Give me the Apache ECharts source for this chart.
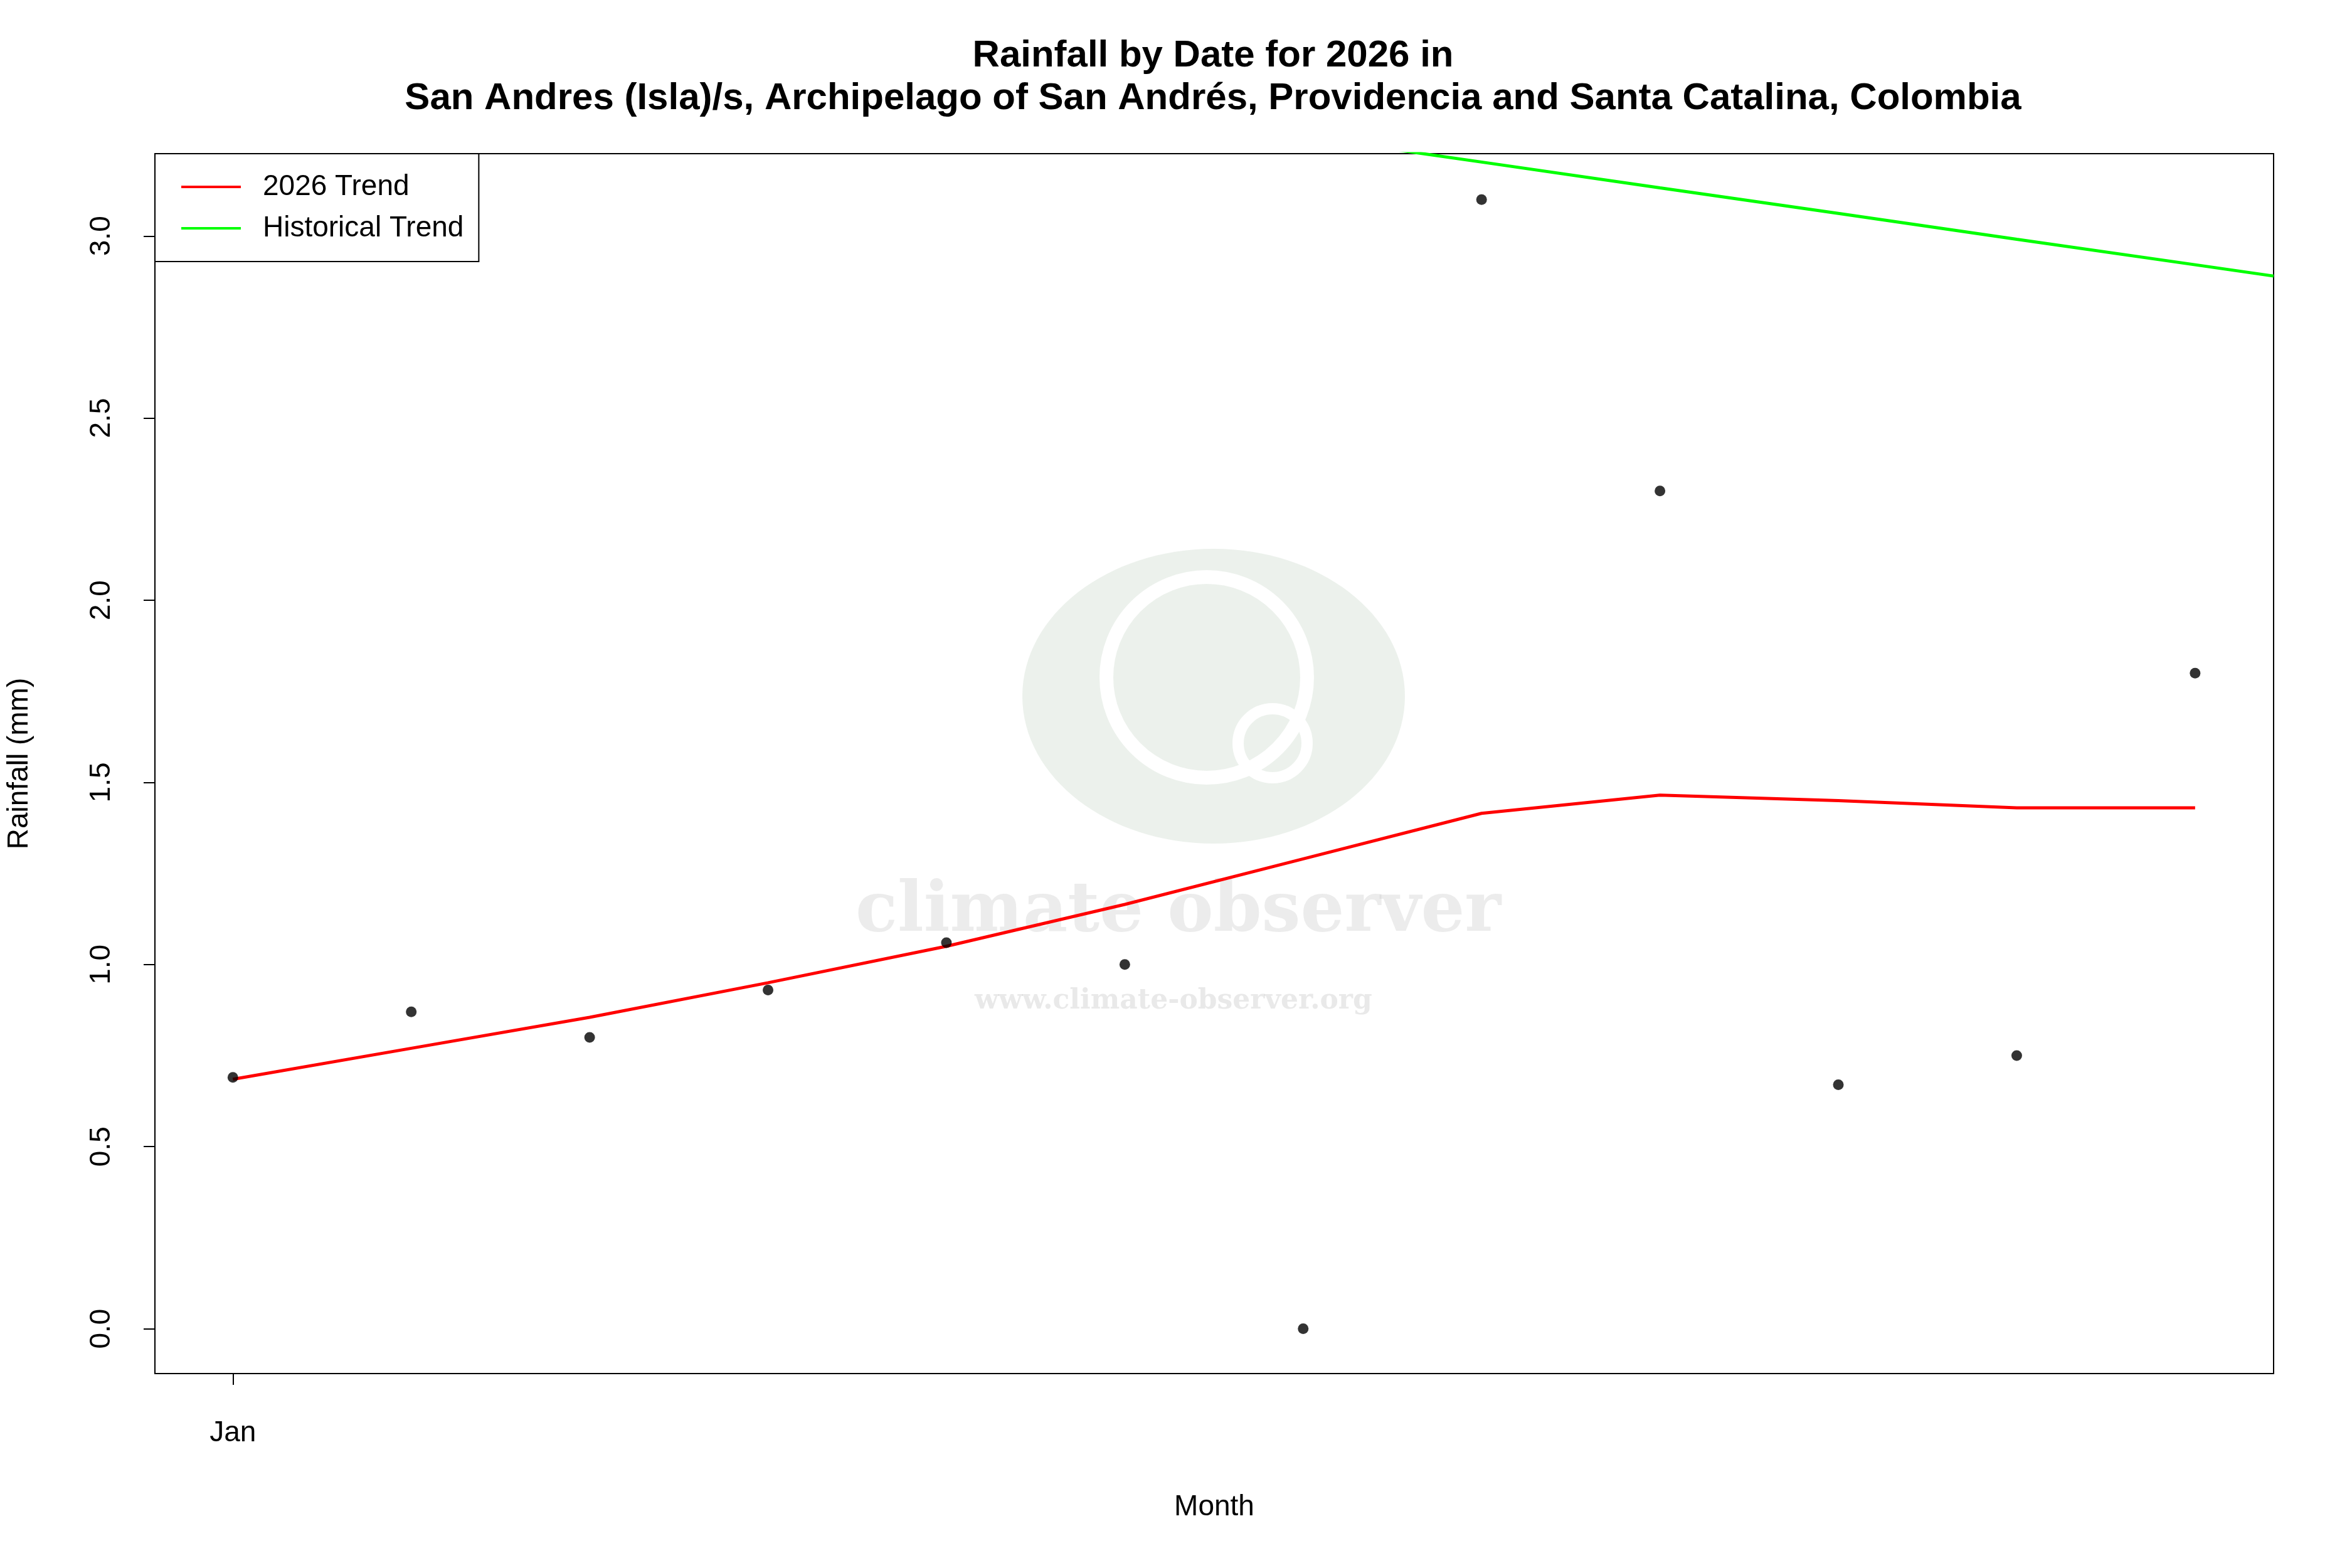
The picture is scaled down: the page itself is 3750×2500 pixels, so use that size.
<!DOCTYPE html>
<html>
<head>
<meta charset="utf-8">
<script src="https://cdn.jsdelivr.net/npm/echarts@6/dist/echarts.min.js"></script>
<style>html,body{margin:0;padding:0;background:#fff}#container{width:3750px;height:2500px}</style>
</head>
<body>
<div id="container"></div>
<script>
// monthly rainfall, x = month index (0 = Jan)
var months = [0, 1, 2, 3, 4, 5, 6, 7, 8, 9, 10, 11];
var rainfall = [0.69, 0.87, 0.80, 0.93, 1.06, 1.00, 0.00, 3.10, 2.30, 0.67, 0.75, 1.80];
var trend2026 = [0.685, 0.77, 0.855, 0.95, 1.05, 1.165, 1.29, 1.415, 1.465, 1.45, 1.43, 1.43];
var histX = [6, 7, 8, 9, 10, 11, 11.44];
var histTrend = [3.273, 3.203, 3.132, 3.062, 2.991, 2.921, 2.89];
var yTicks = [0, 0.5, 1, 1.5, 2, 2.5, 3];

var pair = (xs, ys) => xs.map((x, i) => [x, ys[i]]);
var font = 'Liberation Sans, Arial, sans-serif';

var myChart = echarts.init(document.getElementById("container"));
var option = {
    animation: false,
    title: {
        text: 'Rainfall by Date for 2026 in\nSan Andres (Isla)/s, Archipelago of San Andrés, Providencia and Santa Catalina, Colombia',
        left: 1929, top: 50, textAlign: 'center',
        textStyle: { fontFamily: font, fontSize: 60, fontWeight: 'bold', color: '#000', lineHeight: 68 }
    },
    graphic: [
        { type: 'ellipse', shape: { cx: 1935, cy: 1110, rx: 305, ry: 235 }, style: { fill: 'rgba(200,215,200,0.35)' }, z: 0 },
        { type: 'circle', shape: { cx: 1924, cy: 1080, r: 160 }, style: { fill: 'none', stroke: '#fff', lineWidth: 22 }, z: 0 },
        { type: 'circle', shape: { cx: 2029, cy: 1185, r: 55 }, style: { fill: 'none', stroke: '#fff', lineWidth: 18 }, z: 0 },
        { type: 'text', left: 1364, top: 1400, style: { text: 'climate observer', font: 'bold 110px DejaVu Serif', fill: 'rgba(200,200,200,0.35)' }, z: 0 },
        { type: 'text', left: 1554, top: 1575, style: { text: 'www.climate-observer.org', font: 'bold 44px DejaVu Serif', fill: 'rgba(200,200,200,0.4)' }, z: 0 }
    ],
    legend: {
        left: 247, top: 245, orient: 'vertical', itemWidth: 95, itemHeight: 4, itemGap: 20,
        padding: [30, 24, 30, 42],
        borderColor: '#000', borderWidth: 2, borderRadius: 0,
        textStyle: { fontFamily: font, fontSize: 46, color: '#000', padding: [0, 0, 0, 30] },
        data: [
            { name: '2026 Trend', icon: 'rect' },
            { name: 'Historical Trend', icon: 'rect' }
        ]
    },
    grid: { left: 247, right: 125, top: 245, bottom: 310, show: true, borderColor: '#000', borderWidth: 2, backgroundColor: 'transparent' },
    xAxis: {
        type: 'value', min: -0.437, max: 11.44,
        name: 'Month', nameLocation: 'middle', nameGap: 190,
        nameTextStyle: { fontFamily: font, fontSize: 46, color: '#000' },
        splitLine: { show: false },
        axisLine: { show: false, onZero: false },
        axisTick: { show: true, length: 18, lineStyle: { color: '#000', width: 2 }, customValues: [0] },
        axisLabel: { fontFamily: font, fontSize: 46, color: '#000', margin: 72, customValues: [0], formatter: v => v === 0 ? 'Jan' : '' }
    },
    yAxis: {
        type: 'value', min: -0.123, max: 3.226,
        name: 'Rainfall (mm)', nameLocation: 'middle', nameGap: 193,
        nameTextStyle: { fontFamily: font, fontSize: 46, color: '#000' },
        splitLine: { show: false },
        axisLine: { show: false, onZero: false },
        axisTick: { show: true, length: 18, lineStyle: { color: '#000', width: 2 }, customValues: yTicks },
        axisLabel: { fontFamily: font, fontSize: 46, color: '#000', rotate: 90, margin: 62, customValues: yTicks, formatter: v => v.toFixed(1) }
    },
    series: [
        { name: 'Rainfall', type: 'scatter', symbolSize: 17, itemStyle: { color: '#000' }, data: pair(months, rainfall), z: 5 },
        { name: '2026 Trend', type: 'line', symbol: 'none', lineStyle: { color: '#ff0000', width: 5 }, itemStyle: { color: '#ff0000' }, data: pair(months, trend2026) },
        { name: 'Historical Trend', type: 'line', symbol: 'none', clip: true, lineStyle: { color: '#00ff00', width: 5 }, itemStyle: { color: '#00ff00' }, data: pair(histX, histTrend) }
    ]
};
myChart.setOption(option);
</script>
</body>
</html>
